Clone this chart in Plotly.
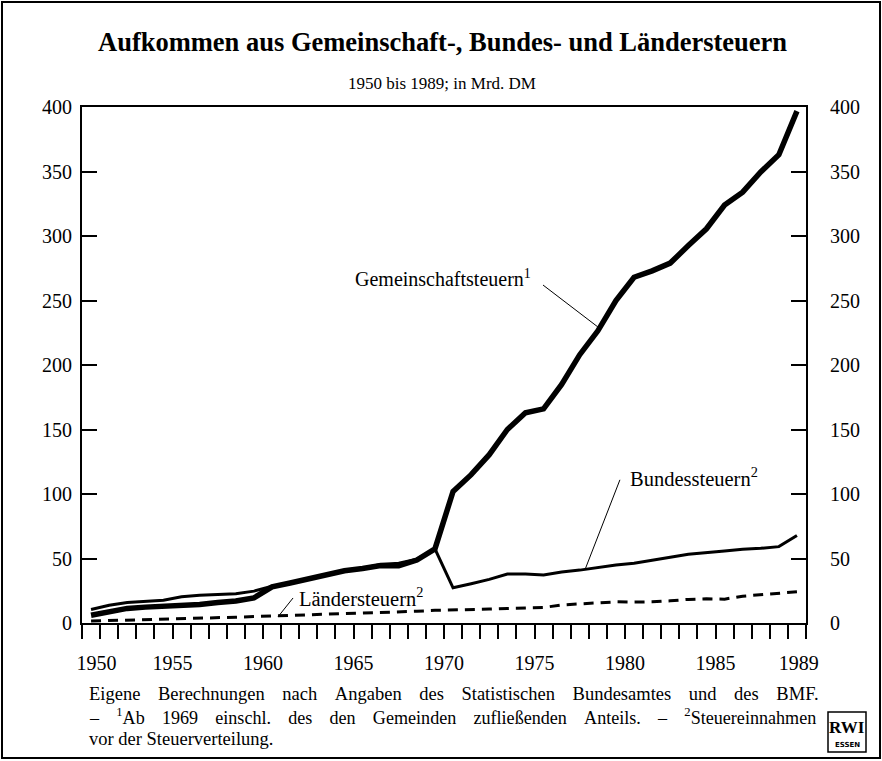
import plotly.graph_objects as go

# ---------------- data (Mrd. DM) ----------------
years = list(range(1950, 1990))

gemeinschaftsteuern = [6.0, 8.7, 11.3, 12.3, 12.8, 13.0, 14.4, 15.9, 17.0, 19.5,
                       28.0, 31.0, 34.3, 37.2, 40.5, 42.3, 44.5, 44.3, 48.8, 57.4,
                       102.0, 115.0, 130.5, 150.0, 163.0, 166.0, 185.0, 208.0, 226.5, 250.0,
                       268.0, 273.0, 279.0, 292.6, 305.6, 324.0, 334.0, 349.7, 363.0, 396.8]

bundessteuern = [10.5, 13.8, 15.9, 17.0, 17.7, 20.3, 21.6, 22.1, 22.7, 24.7,
                 28.5, 30.8, 34.2, 37.5, 40.7, 42.5, 45.3, 46.3, 49.5, 57.4,
                 27.3, 30.4, 33.8, 38.0, 38.0, 37.2, 39.5, 41.0, 43.2, 45.0,
                 46.3, 48.9, 51.0, 53.3, 54.8, 55.9, 57.2, 57.9, 59.2, 67.8]

laendersteuern = [1.5, 1.8, 2.2, 2.6, 3.0, 3.4, 3.8, 4.1, 4.5, 5.0,
                  5.4, 6.0, 6.5, 7.0, 7.5, 7.8, 8.3, 8.6, 9.1, 9.8,
                  10.0, 10.3, 10.8, 11.3, 11.6, 12.0, 14.0, 14.8, 15.2, 16.4,
                  16.2, 16.4, 17.2, 18.3, 18.8, 18.5, 20.8, 22.1, 22.9, 24.2]

x_tick_labels = ["1950", "1955", "1960", "1965", "1970", "1975", "1980", "1985", "1989"]
x_tick_label_years = [1950.8, 1955, 1960, 1965, 1970, 1975, 1980, 1985, 1989.6]
y_ticks = [0, 50, 100, 150, 200, 250, 300, 350, 400]

# values are annual figures, drawn in the middle of each year interval
x_mid = [y + 0.5 for y in years]

FONT = "Liberation Serif"

# plot geometry (pixels)
W, H = 882, 761
L, R, T, B = 82, 76, 107, 138
PW, PH = W - L - R, H - T - B


def px(xp):
    return (xp - L) / PW


def py(yp):
    return (H - B - yp) / PH


fig = go.Figure()
fig.add_trace(go.Scatter(x=x_mid, y=laendersteuern, mode="lines",
                         line=dict(color="black", width=3, dash="10px,7px"),
                         name="Ländersteuern"))
fig.add_trace(go.Scatter(x=x_mid, y=bundessteuern, mode="lines",
                         line=dict(color="black", width=3), name="Bundessteuern"))
fig.add_trace(go.Scatter(x=x_mid, y=gemeinschaftsteuern, mode="lines",
                         line=dict(color="black", width=5.5), name="Gemeinschaftsteuern"))
# invisible helper so the right axis is drawn
fig.add_trace(go.Scatter(x=[years[0]], y=[0], yaxis="y2", mode="markers",
                         marker=dict(opacity=0), hoverinfo="skip", showlegend=False))

fig.update_layout(
    width=W, height=H,
    margin=dict(l=L, r=R, t=T, b=B, pad=0),
    paper_bgcolor="white", plot_bgcolor="white",
    showlegend=False,
    font=dict(family=FONT, color="black", size=18),
    xaxis=dict(range=[1950, 1990], showgrid=False, zeroline=False,
               showline=True, linecolor="black", linewidth=2, mirror=True,
               tickmode="array", tickvals=x_tick_label_years, ticktext=x_tick_labels,
               ticks="", ticklabelstandoff=21,
               tickfont=dict(family=FONT, size=20, color="black"),
               minor=dict(ticks="outside", ticklen=14, tickwidth=1.5, tickcolor="black",
                          dtick=1, tick0=1950, showgrid=False)),
    yaxis=dict(range=[0, 400], tickmode="array", tickvals=y_ticks,
               ticks="inside", ticklen=15, tickwidth=1.5, tickcolor="black",
               showgrid=False, zeroline=False, showline=True, linecolor="black",
               linewidth=2, mirror=True, ticklabelstandoff=4,
               tickfont=dict(family=FONT, size=20, color="black")),
    yaxis2=dict(range=[0, 400], overlaying="y", side="right", tickmode="array",
                tickvals=y_ticks, ticks="inside", ticklen=15, tickwidth=1.5,
                tickcolor="black", showgrid=False, zeroline=False, showline=False,
                ticklabelstandoff=23,
                tickfont=dict(family=FONT, size=20, color="black")),
)

ann = []
# title and subtitle
ann.append(dict(text="<b>Aufkommen aus Gemeinschaft-, Bundes- und Ländersteuern</b>",
                x=px(442), y=py(42), xref="paper", yref="paper", showarrow=False,
                xanchor="center", yanchor="middle", font=dict(family=FONT, size=26.5)))
ann.append(dict(text="1950 bis 1989; in Mrd. DM",
                x=px(442), y=py(84), xref="paper", yref="paper", showarrow=False,
                xanchor="center", yanchor="middle", font=dict(family=FONT, size=17)))

# series labels
ann.append(dict(text="Gemeinschaftsteuern<sup>1</sup>", x=px(353), y=py(278),
                xref="paper", yref="paper", showarrow=False, xanchor="left",
                yanchor="middle", font=dict(family=FONT, size=20)))
ann.append(dict(text="Bundessteuern<sup>2</sup>", x=px(628), y=py(477),
                xref="paper", yref="paper", showarrow=False, xanchor="left",
                yanchor="middle", font=dict(family=FONT, size=20.5)))
ann.append(dict(text="Ländersteuern<sup>2</sup>", x=px(297), y=py(597),
                xref="paper", yref="paper", showarrow=False, xanchor="left",
                yanchor="middle", font=dict(family=FONT, size=20.5)))

# footer (first two lines justified by widening the word gaps)
GAP = "   \u2009"
foot_lines = ["Eigene Berechnungen nach Angaben des Statistischen Bundesamtes und des BMF.",
              "– <sup>1</sup>Ab 1969 einschl. des den Gemeinden zufließenden Anteils. – <sup>2</sup>Steuereinnahmen",
              "vor der Steuerverteilung."]
foot_sizes = [18.5, 18.1, 18.5]
foot_justify = [True, True, False]
for i, line in enumerate(foot_lines):
    txt = GAP.join(line.split(" ")) if foot_justify[i] else line
    ann.append(dict(text=txt, x=px(87), y=py(694 + 22.5 * i), xref="paper", yref="paper",
                    showarrow=False, xanchor="left", yanchor="middle",
                    font=dict(family=FONT, size=foot_sizes[i])))

# RWI logo
ann.append(dict(text="<b>RWI</b>", x=px(847), y=py(727), xref="paper", yref="paper",
                showarrow=False, xanchor="center", yanchor="middle",
                font=dict(family=FONT, size=17)))
ann.append(dict(text="<b>ESSEN</b>", x=px(847), y=py(745), xref="paper", yref="paper",
                showarrow=False, xanchor="center", yanchor="middle",
                font=dict(family="DejaVu Sans", size=7)))

fig.update_layout(annotations=ann)

shapes = []
# leader lines (data coordinates)
shapes.append(dict(type="line", xref="x", yref="y", x0=1975.47, y0=262, x1=1978.5, y1=229.5,
                   line=dict(color="black", width=1)))
shapes.append(dict(type="line", xref="x", yref="y", x0=1979.72, y0=111, x1=1977.8, y1=41.7,
                   line=dict(color="black", width=1)))
shapes.append(dict(type="line", xref="x", yref="y", x0=1961.66, y0=19.4, x1=1960.83, y1=4.8,
                   line=dict(color="black", width=1)))
# outer frame
shapes.append(dict(type="rect", xref="paper", yref="paper", x0=px(2), y0=py(2), x1=px(880), y1=py(758),
                   line=dict(color="black", width=2)))
# RWI box
shapes.append(dict(type="rect", xref="paper", yref="paper", x0=px(828), y0=py(712), x1=px(866), y1=py(752),
                   line=dict(color="black", width=1.5)))
fig.update_layout(shapes=shapes)

fig.write_html("out.html", config={"displayModeBar": False},
               post_script="document.body.style.margin='0';")
